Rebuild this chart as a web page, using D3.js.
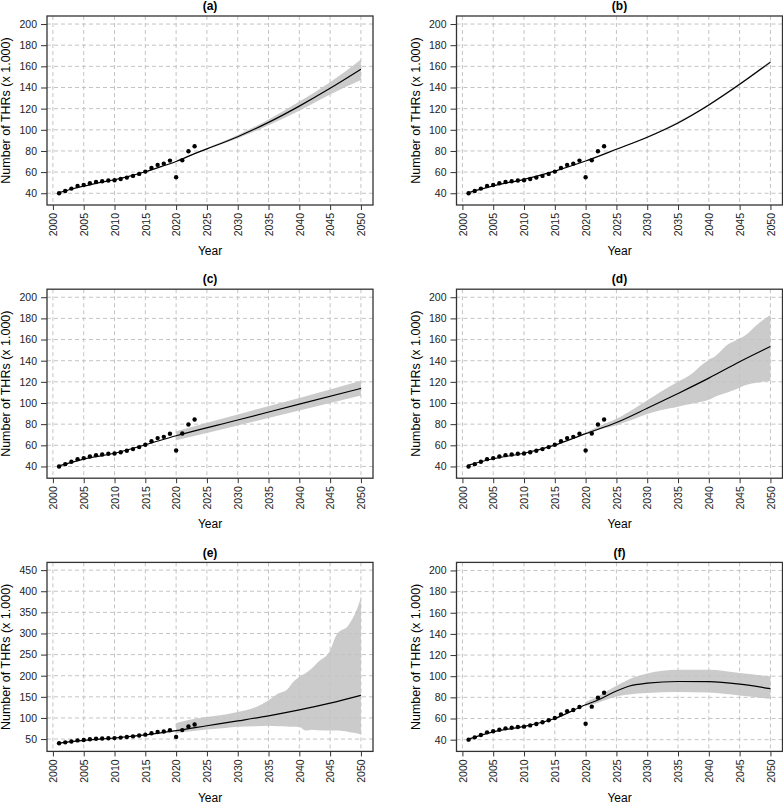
<!DOCTYPE html>
<meta charset="utf-8">
<style>
  body {
    margin: 0;
    background: #fff;
    font-family: "Liberation Sans", Arial, sans-serif;
  }
  .tick text { font-size: 10.5px; fill: #222; }
  .tick line { stroke: #333; }
</style>
<body>
<script src="https://d3js.org/d3.v7.min.js"></script>
<script>
  // observed counts (x 1000)
  var obsYears = [2001, 2002, 2003, 2004, 2005, 2006, 2007, 2008, 2009, 2010, 2011, 2012,
                  2013, 2014, 2015, 2016, 2017, 2018, 2019, 2020, 2021, 2022, 2023];
  var obsValues = [40, 42.2, 44.4, 46.9, 47.9, 49.4, 50.7, 51.3, 52, 52.3, 53.5, 54.8,
                   56.4, 58.3, 60.5, 63.9, 66.8, 68, 70.9, 55.1, 71.2, 79.7, 84.4];

  var xTicks = [2000, 2005, 2010, 2015, 2020, 2025, 2030, 2035, 2040, 2045, 2050];
  var yTicks = [40, 60, 80, 100, 120, 140, 160, 180, 200];
  var yTicksE = [50, 100, 150, 200, 250, 300, 350, 400, 450];

  // fitted lines [year, value]
  var fitA = [[2001,40.5],[2003,43.8],[2005,46.7],[2008,50.5],[2010,52.8],[2012,55.5],[2015,60.3],
              [2018,66],[2020,70],[2023,77.5],[2025,82],[2030,93.5],[2035,107],[2040,122.4],[2045,139.2],[2050,157.2]];
  var fitB = [[2001,40.6],[2005,47],[2010,53.2],[2015,61],[2020,70.5],[2025,81.6],[2030,93],
              [2035,106.5],[2040,123.5],[2045,143],[2050,164]];
  var fitC = [[2001,40.5],[2005,47],[2010,52.5],[2015,60.5],[2020,69],[2030,83.9],[2040,98.9],[2050,113.8]];
  var fitD = [[2001,41.3],[2005,47.3],[2010,52.5],[2015,60.2],[2020,71],[2025,81.5],[2030,95],
              [2035,109],[2040,123.5],[2045,139],[2050,153.4]];
  var fitE = [[2001,40.5],[2005,47],[2010,52.5],[2015,60],[2020,70],[2025,81.5],[2030,93],
              [2035,105],[2040,119],[2045,135],[2050,153.5]];
  var fitF = [[2001,40.5],[2005,47.3],[2010,52.5],[2015,60],[2020,73],[2022,77.5],[2025,86],
              [2027,90.5],[2030,93.4],[2035,95],[2040,94.8],[2045,92.5],[2050,88.2]];

  // prediction bands [year, lower, upper]
  var bandA = [[2020,69.8,70.2],[2023,77.2,77.8],[2025,81.3,82.7],[2030,92,95],[2035,104.2,109.8],
               [2040,118.1,126.7],[2045,133.4,145],[2050,147,166.5]];
  var bandB = [[2023,77.8,78.4],[2030,92.3,93.7],[2040,122.6,124.4],[2050,162.8,165.2]];
  var bandC = [[2020,64.8,73.4],[2030,78.8,89.2],[2040,93,104.8],[2050,107,121]];
  var bandD = [[2020,70.3,72],[2022,74.5,77.5],[2025,79,85],[2028,85,95],[2030,89.5,102.5],[2032,93,110],
               [2035,96.5,120],[2037,99,126.6],[2039,101.5,136.7],[2040,103,141],[2041,106,144],[2043,110,155],
               [2045,114.5,161],[2046,117,164.4],[2048,119.5,175],[2050,121,183.3]];
  var bandE = [[2020,64,88],[2022,68,95],[2025,72.5,102],[2028,76,108],[2030,79,114],[2033,80.5,126],
               [2035,81.5,142],[2036.5,80.5,157.5],[2038,80,167],[2039,79,185],[2040,78.5,197],[2041,70,206],
               [2042,72,217],[2043,71,232],[2045,70,260],[2046,70,296],[2048,67,320],[2049.5,63,363],[2050,60.5,385]];
  var bandF = [[2020,71.8,75.5],[2022,75,81],[2025,80.8,91],[2027,82.7,97],[2030,84,102.5],
               [2035,85,106],[2040,84.5,106],[2045,81.7,103],[2050,78.6,99.8]];

  var W = 783, H = 804;
  var colX = [47, 456.5], rowY = [16, 289.2, 562.4];
  var pw = 326, ph = 189;

  var panels = [
    {label: "(a)", col: 0, row: 0, fit: fitA, band: bandA, yDom: [28.9, 207.6], ticks: yTicks},
    {label: "(b)", col: 1, row: 0, fit: fitB, band: bandB, yDom: [28.9, 207.6], ticks: yTicks},
    {label: "(c)", col: 0, row: 1, fit: fitC, band: bandC, yDom: [28.9, 207.6], ticks: yTicks},
    {label: "(d)", col: 1, row: 1, fit: fitD, band: bandD, yDom: [28.9, 207.6], ticks: yTicks},
    {label: "(e)", col: 0, row: 2, fit: fitE, band: bandE, yDom: [20.8, 468.3], ticks: yTicksE},
    {label: "(f)", col: 1, row: 2, fit: fitF, band: bandF, yDom: [28.9, 207.6], ticks: yTicks}
  ];

  var svg = d3.select("body").append("svg")
    .attr("width", W)
    .attr("height", H);

  var x = d3.scaleLinear().domain([1999.04, 2051.96]).range([0, pw]);

  panels.forEach(function (p, i) {
    var y = d3.scaleLinear().domain(p.yDom).range([ph, 0]);
    var g = svg.append("g")
      .attr("transform", "translate(" + colX[p.col] + "," + rowY[p.row] + ")");

    g.append("clipPath").attr("id", "clip" + i)
      .append("rect").attr("width", pw).attr("height", ph);

    var plot = g.append("g").attr("clip-path", "url(#clip" + i + ")");

    // band
    plot.append("path")
      .datum(p.band)
      .attr("fill", "#cbcbcb")
      .attr("d", d3.area()
        .x(function (d) { return x(d[0]); })
        .y0(function (d) { return y(d[1]); })
        .y1(function (d) { return y(d[2]); })
        .curve(d3.curveMonotoneX));

    // dashed grid
    plot.selectAll(".gx").data(xTicks).enter().append("line")
      .attr("x1", function (d) { return x(d); }).attr("x2", function (d) { return x(d); })
      .attr("y1", 0).attr("y2", ph)
      .attr("stroke", "#c4c4c4").attr("stroke-dasharray", "4,3");
    plot.selectAll(".gy").data(p.ticks).enter().append("line")
      .attr("y1", function (d) { return y(d); }).attr("y2", function (d) { return y(d); })
      .attr("x1", 0).attr("x2", pw)
      .attr("stroke", "#c4c4c4").attr("stroke-dasharray", "4,3");

    // fitted line
    plot.append("path")
      .datum(p.fit)
      .attr("fill", "none")
      .attr("stroke", "#000")
      .attr("stroke-width", 1.2)
      .attr("d", d3.line()
        .x(function (d) { return x(d[0]); })
        .y(function (d) { return y(d[1]); })
        .curve(d3.curveMonotoneX));

    // observed points
    plot.selectAll(".pt").data(obsYears).enter().append("circle")
      .attr("cx", function (d) { return x(d); })
      .attr("cy", function (d, j) { return y(obsValues[j]); })
      .attr("r", 2.2)
      .attr("fill", "#000");

    // frame
    g.append("rect")
      .attr("width", pw).attr("height", ph)
      .attr("fill", "none").attr("stroke", "#333").attr("stroke-width", 1.3);

    // axes
    var ya = g.append("g").call(d3.axisLeft(y).tickValues(p.ticks).tickSize(6).tickPadding(4));
    ya.select(".domain").remove();

    var xa = g.append("g").attr("transform", "translate(0," + ph + ")")
      .call(d3.axisBottom(x).tickValues(xTicks).tickSize(5).tickFormat(d3.format("d")));
    xa.select(".domain").remove();
    xa.selectAll("text")
      .attr("transform", "rotate(-90)")
      .attr("text-anchor", "end")
      .attr("x", -8).attr("y", 0).attr("dy", "0.35em");

    // labels
    g.append("text")
      .attr("x", pw / 2).attr("y", -10).attr("dy", "0.35em")
      .attr("text-anchor", "middle")
      .style("font-size", "12px").style("font-weight", "bold")
      .text(p.label);

    g.append("text")
      .attr("x", pw / 2).attr("y", ph + 46).attr("dy", "0.35em")
      .attr("text-anchor", "middle")
      .style("font-size", "12px")
      .text("Year");

    g.append("text")
      .attr("transform", "translate(-41," + ph / 2 + ") rotate(-90)")
      .attr("dy", "0.35em")
      .attr("text-anchor", "middle")
      .style("font-size", "12.5px")
      .text("Number of THRs (x 1.000)");
  });
</script>
</body>
